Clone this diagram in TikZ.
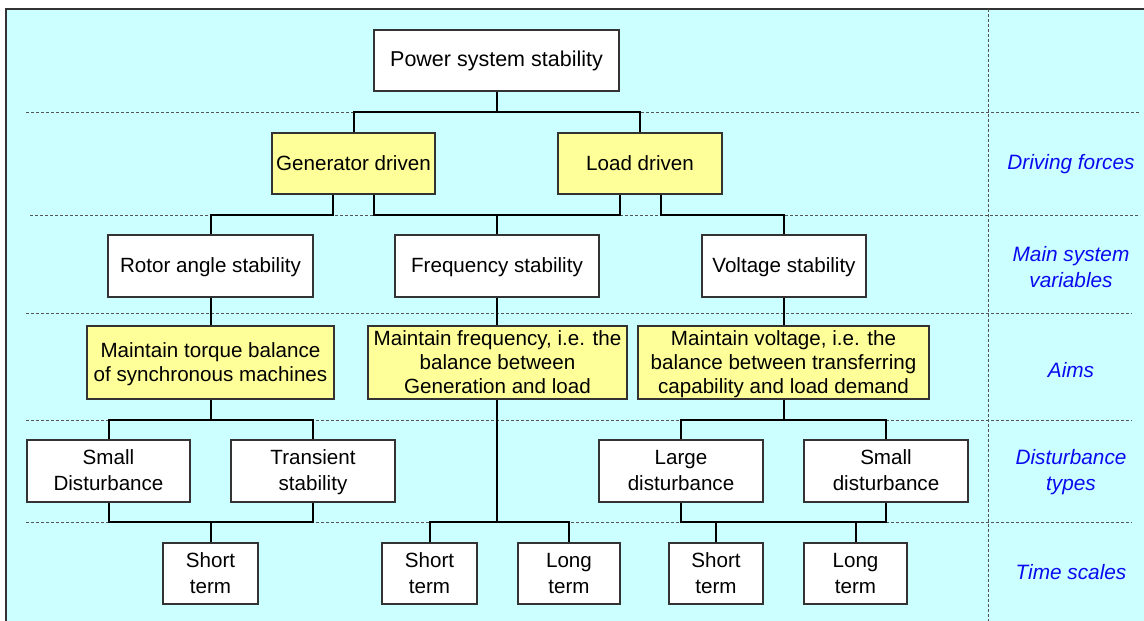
\documentclass[tikz,border=0pt]{standalone}
\usepackage{fontspec}
\setmainfont{Liberation Sans}
\definecolor{bgcyan}{HTML}{CCFFFF}
\definecolor{yel}{HTML}{FFFF99}
\definecolor{boxline}{HTML}{333333}
\definecolor{sepgray}{HTML}{555555}
\definecolor{labblue}{HTML}{0A0AF0}
\newcommand{\twoln}[1]{\rule[-6.5pt]{0pt}{26pt}#1}
\newcommand{\aimln}[1]{\rule[-5pt]{0pt}{24pt}#1}
\tikzset{
  box/.style={draw=boxline, line width=1.2pt, fill=white, inner sep=0pt, align=center,
              font=\fontsize{20.6}{26}\selectfont},
  ybox/.style={box, fill=yel, font=\fontsize{20.6}{24}\selectfont},
  lab/.style={text=labblue, align=center, inner sep=0pt, font=\fontsize{20.8}{26}\selectfont\itshape},
  sepline/.style={draw=sepgray, line width=1pt, dash pattern=on 3pt off 2pt},
  conn/.style={draw=black, line width=2pt},
}
\begin{document}
\begin{tikzpicture}[x=1pt,y=-1pt]
\useasboundingbox (0,0) rectangle (1144,621);
\clip (0,0) rectangle (1144,621);
\fill[white] (0,0) rectangle (1144,621);
\fill[bgcyan] (6,9) rectangle (1150,630);
\draw[boxline, line width=1.5pt] (6,630) -- (6,9) -- (1150,9);

% level separators
\coordinate (lv1) at (0,112);
\coordinate (lv2) at (0,215);
\coordinate (lv3) at (0,313);
\coordinate (lv4) at (0,420);
\coordinate (lv5) at (0,522);
\draw[sepline] (26,112) -- (1140,112);
\draw[sepline] (30,215) -- (1140,215);
\draw[sepline] (26,313) -- (1132,313);
\draw[sepline] (26,420) -- (1132,420);
\draw[sepline] (26,522) -- (1132,522);
\draw[sepline] (988,9) -- (988,621);

% nodes
\node[box, minimum width=245pt, minimum height=61pt, font=\fontsize{21.5}{25}\selectfont] (pss) at (496.5,60.5) {Power system stability};
\node[ybox, minimum width=163pt, minimum height=61pt] (gen) at (353.5,163.5) {Generator driven};
\node[ybox, minimum width=164pt, minimum height=61pt] (load) at (640,163.5) {Load driven};

\node[box, minimum width=205pt, minimum height=62pt] (rot) at (210.5,266) {\twoln{Rotor angle stability}};
\node[box, minimum width=204pt, minimum height=62pt] (freq) at (497,266) {\twoln{Frequency stability}};
\node[box, minimum width=164pt, minimum height=62pt] (volt) at (784,266) {\twoln{Voltage stability}};

\node[ybox, minimum width=247pt, minimum height=73pt] (torq) at (210.5,362.5) {\aimln{Maintain torque balance}\\\aimln{of synchronous machines}};
\node[ybox, minimum width=259pt, minimum height=73pt] (faim) at (497.5,362.5) {\aimln{Maintain frequency, i.e. the}\\\aimln{balance between}\\\aimln{Generation and load}};
\node[ybox, minimum width=291pt, minimum height=73pt] (vaim) at (783.5,362.5) {\aimln{Maintain voltage, i.e. the}\\\aimln{balance between transferring}\\\aimln{capability and load demand}};

\node[box, minimum width=163pt, minimum height=62pt] (sd1) at (108.5,471) {\twoln{Small}\\\twoln{Disturbance}};
\node[box, minimum width=164pt, minimum height=62pt] (tr1) at (313,471) {\twoln{Transient}\\\twoln{stability}};
\node[box, minimum width=164pt, minimum height=62pt] (ld) at (681,471) {\twoln{Large}\\\twoln{disturbance}};
\node[box, minimum width=164pt, minimum height=62pt] (sd2) at (886,471) {\twoln{Small}\\\twoln{disturbance}};

\node[box, minimum width=95pt, minimum height=61pt] (st1) at (210.5,573.5) {\twoln{Short}\\\twoln{term}};
\node[box, minimum width=95pt, minimum height=61pt] (st2) at (429.5,573.5) {\twoln{Short}\\\twoln{term}};
\node[box, minimum width=102pt, minimum height=61pt] (lt2) at (569,573.5) {\twoln{Long}\\\twoln{term}};
\node[box, minimum width=94pt, minimum height=61pt] (st3) at (716,573.5) {\twoln{Short}\\\twoln{term}};
\node[box, minimum width=103pt, minimum height=61pt] (lt3) at (855.5,573.5) {\twoln{Long}\\\twoln{term}};

% labels
\node[lab] (l1) at (1071,164.5) {Driving forces};
\node[lab] (l2) at (1071,268) {\twoln{Main system}\\\twoln{variables}};
\node[lab] (l3) at (1071,370) {Aims};
\node[lab] (l4) at (1071,471) {\twoln{Disturbance}\\\twoln{types}};
\node[lab] (l5) at (1071,572) {Time scales};

% connectors
\draw[conn] (pss.south) -- (pss.south |- lv1);
\draw[conn] (gen.north) |- (load.north |- lv1) -- (load.north);

\draw[conn] ([xshift=-20.5pt]gen.south) -- ([xshift=-20.5pt]gen.south |- lv2) -| (rot.north);
\draw[conn] ([xshift=20.5pt]gen.south) -- ([xshift=20.5pt]gen.south |- lv2) -- ([xshift=-20pt]load.south |- lv2) -- ([xshift=-20pt]load.south);
\draw[conn] (freq.north) -- (freq.north |- lv2);
\draw[conn] ([xshift=21pt]load.south) -- ([xshift=21pt]load.south |- lv2) -| (volt.north);

\draw[conn] (rot.south) -- (torq.north);
\draw[conn] (freq.south) -- (faim.north -| freq.south);
\draw[conn] (volt.south) -- (vaim.north -| volt.south);

\draw[conn] (torq.south) -- (torq.south |- lv4);
\draw[conn] (sd1.north) |- (tr1.north |- lv4) -- (tr1.north);
\draw[conn] (sd1.south) |- (tr1.south |- lv5) -- (tr1.south);
\draw[conn] (st1.north) -- (st1.north |- lv5);

\draw[conn] (faim.south -| freq.south) -- (freq.south |- lv5);
\draw[conn] (st2.north) |- (lt2.north |- lv5) -- (lt2.north);

\draw[conn] (vaim.south -| volt.south) -- (volt.south |- lv4);
\draw[conn] (ld.north) |- (sd2.north |- lv4) -- (sd2.north);
\draw[conn] (ld.south) |- (sd2.south |- lv5) -- (sd2.south);
\draw[conn] (st3.north) -- (st3.north |- lv5);
\draw[conn] (lt3.north) -- (lt3.north |- lv5);
\end{tikzpicture}
\end{document}
